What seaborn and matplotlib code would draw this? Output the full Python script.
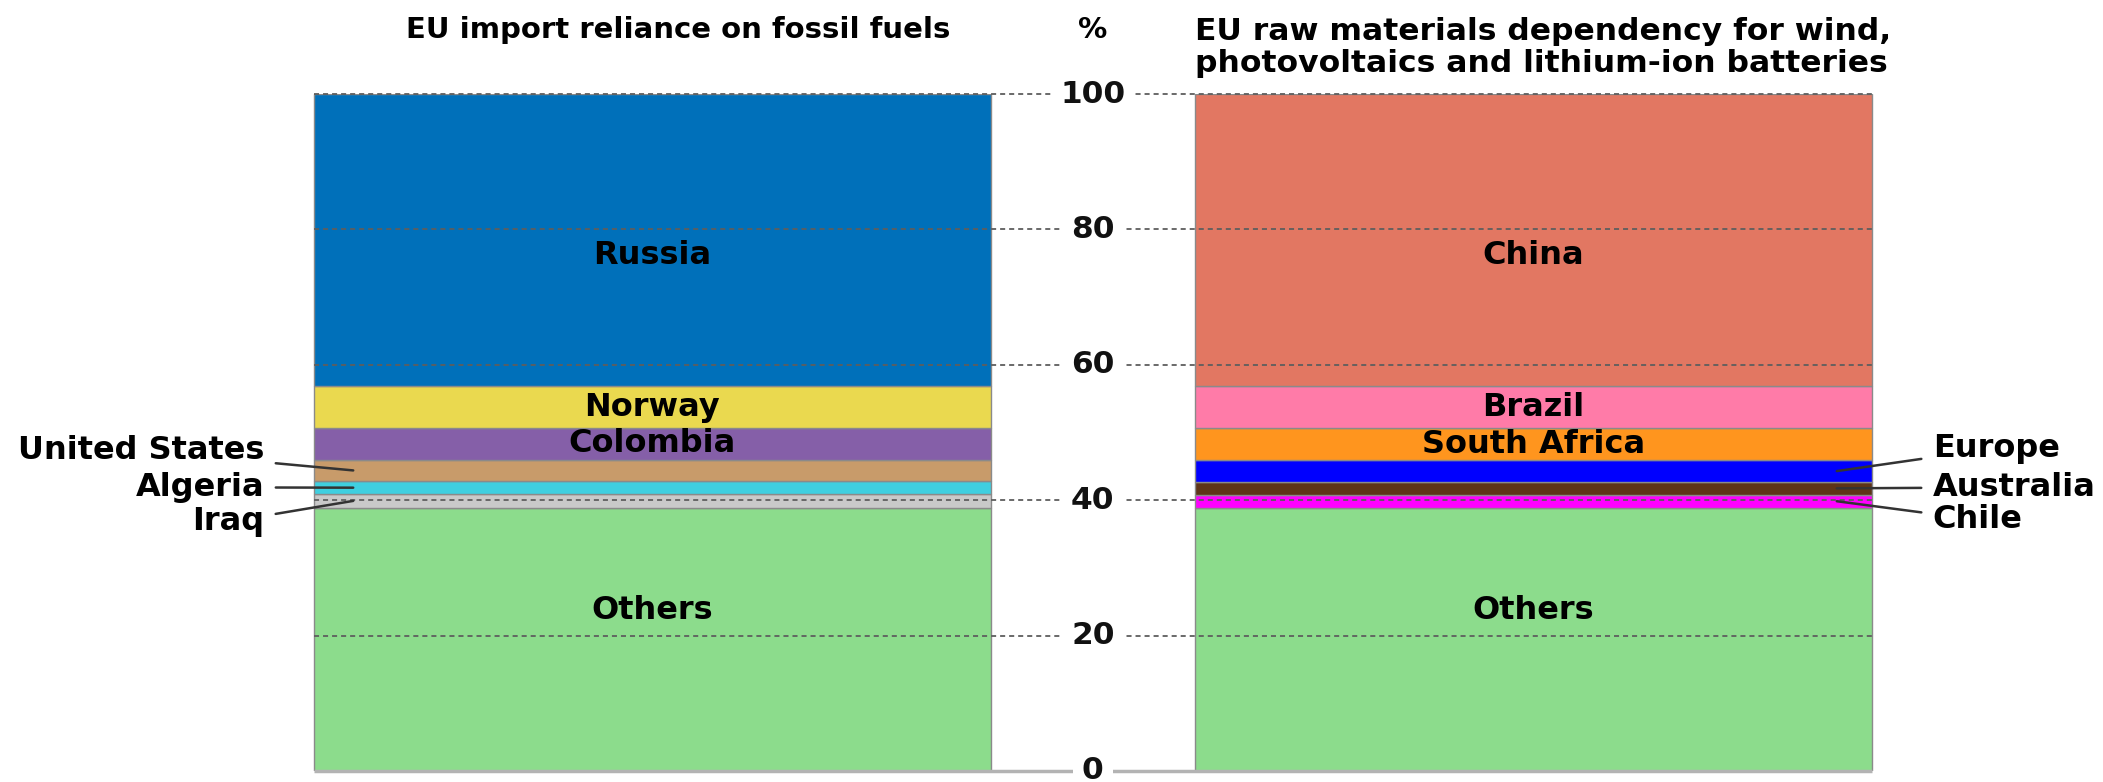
import numpy as np
import pandas as pd
import matplotlib
matplotlib.use("Agg")
import matplotlib.pyplot as plt
import seaborn as sns

# ---- data -------------------------------------------------------------
fossil_labels = ["Others", "Iraq", "Algeria", "United States", "Colombia", "Norway", "Russia"]
fossil_values = [38.9, 2.0, 1.9, 3.2, 4.7, 6.1, 43.2]
fossil_colors = ["#8CDC8C", "#C9C9C9", "#3FCFE0", "#C89B6A", "#855FA8", "#EAD94F", "#0070BA"]

raw_labels = ["Others", "Chile", "Australia", "Europe", "South Africa", "Brazil", "China"]
raw_values = [38.9, 1.9, 1.9, 3.2, 4.7, 6.2, 43.2]
raw_colors = ["#8CDC8C", "#FF00FF", "#5E3417", "#0000FF", "#FF951E", "#FF7BA8", "#E27762"]

titles = ["EU import reliance on fossil fuels",
          "EU raw materials dependency for wind,\nphotovoltaics and lithium-ion batteries"]
y_ticks = [0, 20, 40, 60, 80, 100]

# ---- style ------------------------------------------------------------
sns.set_style("white")
plt.rcParams["font.family"] = ["DejaVu Sans"]
plt.rcParams["font.weight"] = "bold"
plt.rcParams["text.color"] = "black"

fig = plt.figure(figsize=(21.03, 7.82), dpi=100)
ax = fig.add_axes([0, 0.01407, 1, 0.8657])

BAR_W = 0.768
X_POS = [0, 1]
LABEL_FS = 23


def stack_frame(labels, values, colors, xpos):
    df = pd.DataFrame({"label": labels, "value": values, "color": colors})
    df["bottom"] = df["value"].cumsum() - df["value"]
    df["mid"] = df["bottom"] + df["value"] / 2
    df["x"] = xpos
    return df


fossil = stack_frame(fossil_labels, fossil_values, fossil_colors, X_POS[0])
raw = stack_frame(raw_labels, raw_values, raw_colors, X_POS[1])

for df in (fossil, raw):
    for _, row in df.iterrows():
        sns.barplot(x=[row["x"]], y=[row["value"]], bottom=row["bottom"],
                    color=row["color"], saturation=1, native_scale=True,
                    width=BAR_W, errorbar=None, edgecolor="#8a8a8a",
                    linewidth=1.0, ax=ax, zorder=2)

ax.set_xlim(-0.7397, 1.6460)
ax.set_ylim(0, 100)
ax.axis("off")

left_edge = X_POS[0] - BAR_W / 2
right_edge = X_POS[1] + BAR_W / 2
mid_x = 0.5

# grid lines drawn across both bars, labels in the gap between them
for v in y_ticks:
    if v == 0:
        ax.hlines(v, left_edge, right_edge, colors="#b3b3b3", lw=2.5, zorder=3,
                  clip_on=False)
    else:
        ax.hlines(v, left_edge, right_edge, colors="#5e5e5e", lw=1.3,
                  linestyles=(0, (2.8, 2.2)), zorder=3, clip_on=False)
    ax.text(mid_x, v, f"{v}", ha="center", va="center", fontsize=22.5,
            fontweight="bold", color="#111111", zorder=4, clip_on=False,
            bbox=dict(boxstyle="square,pad=0.3", fc="white", ec="none"))

# titles
ax.text(0.0295, 109.5, titles[0], ha="center", va="center", fontsize=21,
        fontweight="bold", clip_on=False)
ax.text(mid_x, 109.5, "%", ha="center", va="center", fontsize=21,
        fontweight="bold", clip_on=False)
ax.text(X_POS[1] - BAR_W / 2, 106.9, titles[1], ha="left", va="center",
        fontsize=22.6, fontweight="bold", linespacing=1.12, clip_on=False)

# labels inside the wide segments
inside_nudge = {"Russia": -2.2, "China": -2.2, "Others": 4.3}
inside = {"Russia", "Norway", "Colombia", "Others",
          "China", "Brazil", "South Africa"}
for df in (fossil, raw):
    for _, row in df.iterrows():
        if row["label"] in inside:
            ax.text(row["x"], row["mid"] + inside_nudge.get(row["label"], 0),
                    row["label"], ha="center", va="center", fontsize=LABEL_FS,
                    fontweight="bold", color="black", zorder=5)

# labels with leader lines for the thin segments
left_text_y = {"United States": 47.3, "Algeria": 41.9, "Iraq": 36.8}
right_text_y = {"Europe": 47.7, "Australia": 41.9, "Chile": 37.1}
line_kw = dict(arrowstyle="-", color="#333333", lw=1.8, shrinkA=6, shrinkB=0)

for _, row in fossil.iterrows():
    if row["label"] in left_text_y:
        ax.annotate(row["label"], xy=(left_edge + 0.045, row["mid"]),
                    xytext=(-0.440, left_text_y[row["label"]]),
                    ha="right", va="center", fontsize=LABEL_FS, fontweight="bold",
                    arrowprops=line_kw, zorder=5, annotation_clip=False)

for _, row in raw.iterrows():
    if row["label"] in right_text_y:
        ax.annotate(row["label"], xy=(right_edge - 0.04, row["mid"]),
                    xytext=(1.453, right_text_y[row["label"]]),
                    ha="left", va="center", fontsize=LABEL_FS, fontweight="bold",
                    arrowprops=line_kw, zorder=5, annotation_clip=False)

fig.savefig("out.png", dpi=100, facecolor="white")
